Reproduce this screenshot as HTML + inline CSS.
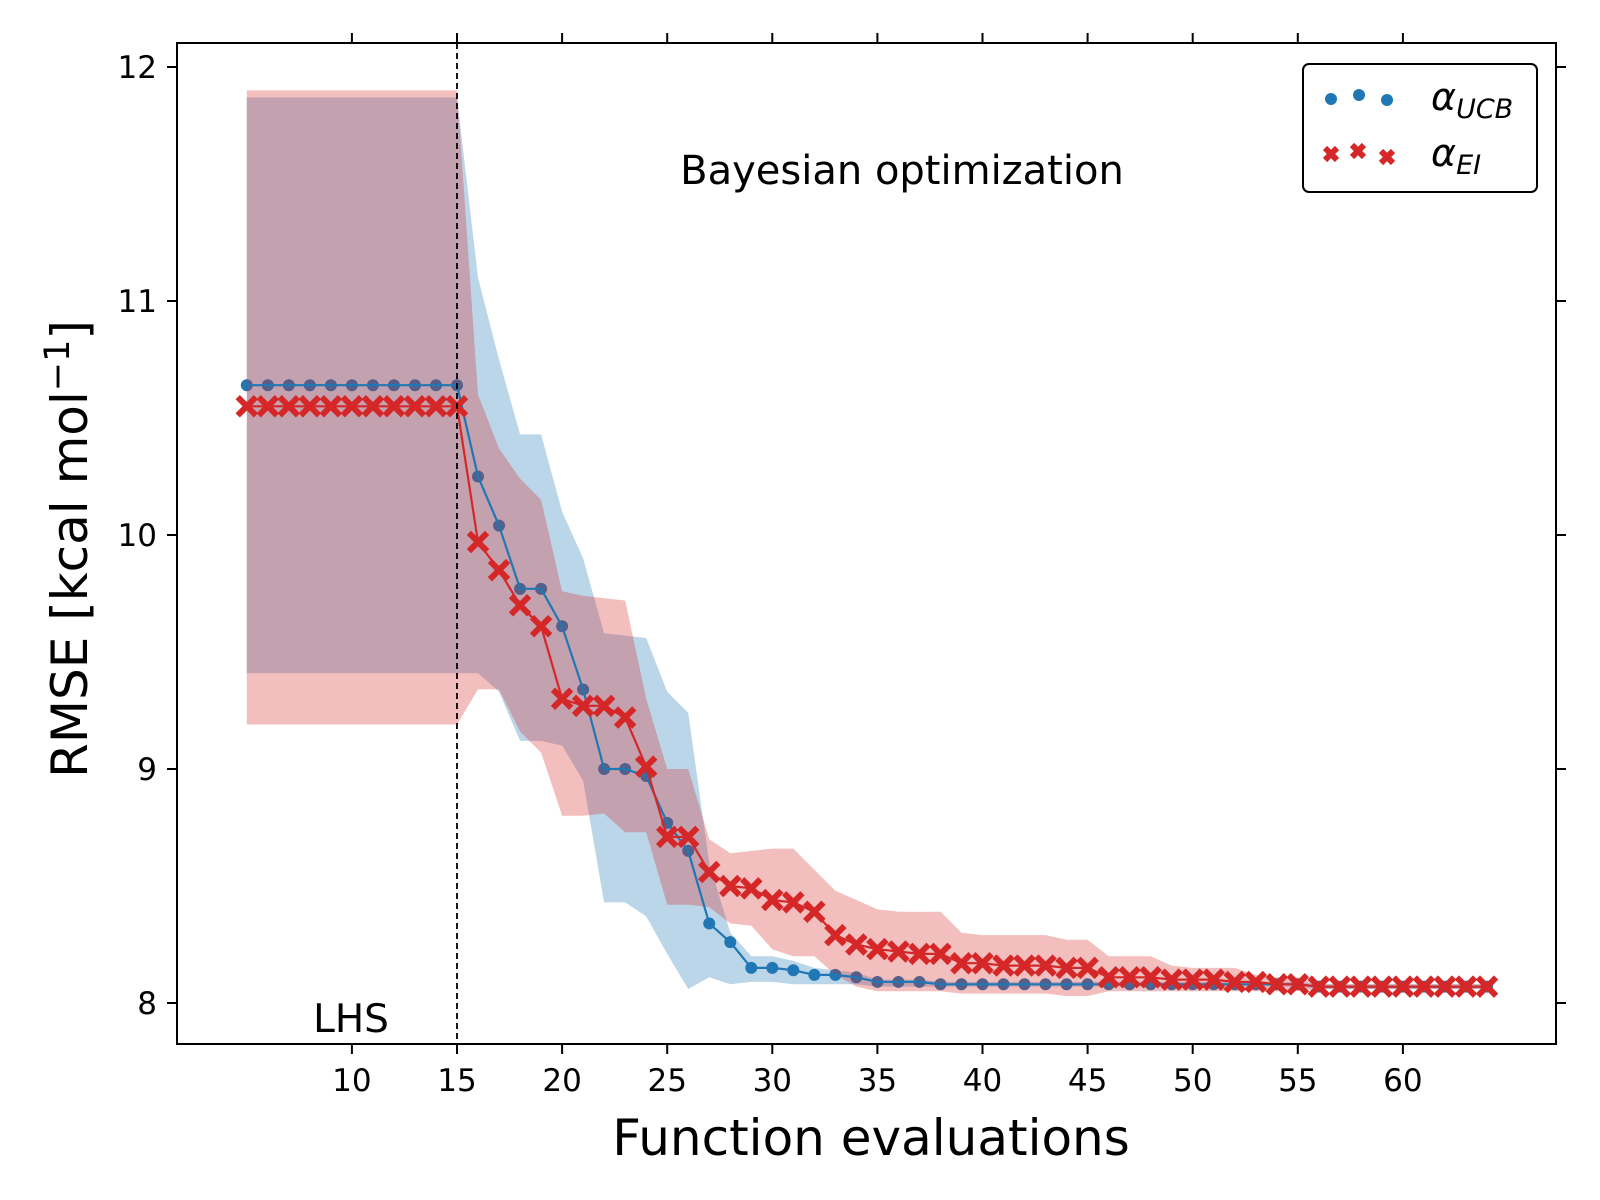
<!DOCTYPE html>
<html><head><meta charset="utf-8"><style>
html,body{margin:0;padding:0;background:#fff;}
svg{display:block;font-family:"DejaVu Sans","Liberation Sans",sans-serif;}
</style></head><body>
<svg id="chart" width="1600" height="1200" viewBox="0 0 1600 1200">
<g id="fills"></g><g id="series"></g><g id="axes"></g>
</svg>
<script>
const xs = [5,6,7,8,9,10,11,12,13,14,15,16,17,18,19,20,21,22,23,24,25,26,27,28,29,30,31,32,33,34,35,36,37,38,39,40,41,42,43,44,45,46,47,48,49,50,51,52,53,54,55,56,57,58,59,60,61,62,63,64];
const ucbMean = [10.64,10.64,10.64,10.64,10.64,10.64,10.64,10.64,10.64,10.64,10.64,10.25,10.04,9.77,9.77,9.61,9.34,9.0,9.0,8.97,8.77,8.65,8.34,8.26,8.15,8.15,8.14,8.12,8.12,8.11,8.09,8.09,8.09,8.08,8.08,8.08,8.08,8.08,8.08,8.08,8.08,8.08,8.08,8.08,8.08,8.08,8.08,8.08,8.08,8.08,8.08,8.07,8.07,8.07,8.07,8.07,8.07,8.07,8.07,8.07];
const ucbUpper = [11.87,11.87,11.87,11.87,11.87,11.87,11.87,11.87,11.87,11.87,11.87,11.1,10.75,10.43,10.43,10.1,9.9,9.58,9.57,9.56,9.33,9.24,8.6,8.3,8.2,8.2,8.18,8.15,8.14,8.13,8.1,8.1,8.1,8.09,8.09,8.09,8.09,8.09,8.09,8.09,8.09,8.09,8.09,8.09,8.09,8.09,8.09,8.09,8.09,8.09,8.09,8.08,8.08,8.08,8.08,8.08,8.08,8.08,8.08,8.08];
const ucbLower = [9.41,9.41,9.41,9.41,9.41,9.41,9.41,9.41,9.41,9.41,9.41,9.41,9.33,9.12,9.12,9.1,8.95,8.43,8.43,8.37,8.21,8.06,8.11,8.08,8.09,8.09,8.08,8.08,8.08,8.08,8.07,8.07,8.07,8.07,8.07,8.07,8.07,8.07,8.07,8.07,8.07,8.07,8.07,8.07,8.07,8.07,8.07,8.07,8.07,8.07,8.07,8.06,8.06,8.06,8.06,8.06,8.06,8.06,8.06,8.06];
const eiMean = [10.55,10.55,10.55,10.55,10.55,10.55,10.55,10.55,10.55,10.55,10.55,9.97,9.85,9.7,9.61,9.3,9.27,9.27,9.22,9.01,8.71,8.71,8.56,8.5,8.49,8.44,8.43,8.39,8.29,8.25,8.23,8.22,8.21,8.21,8.17,8.17,8.16,8.16,8.16,8.15,8.15,8.11,8.11,8.11,8.1,8.1,8.1,8.09,8.09,8.08,8.08,8.07,8.07,8.07,8.07,8.07,8.07,8.07,8.07,8.07];
const eiUpper = [11.9,11.9,11.9,11.9,11.9,11.9,11.9,11.9,11.9,11.9,11.9,10.6,10.37,10.24,10.15,9.76,9.74,9.73,9.72,9.3,9.0,9.0,8.7,8.64,8.65,8.66,8.66,8.57,8.48,8.44,8.4,8.39,8.39,8.39,8.3,8.29,8.29,8.29,8.29,8.27,8.27,8.2,8.2,8.2,8.16,8.15,8.15,8.15,8.12,8.11,8.11,8.08,8.08,8.08,8.08,8.08,8.08,8.08,8.08,8.08];
const eiLower = [9.19,9.19,9.19,9.19,9.19,9.19,9.19,9.19,9.19,9.19,9.19,9.34,9.34,9.16,9.07,8.8,8.8,8.81,8.73,8.73,8.42,8.42,8.41,8.34,8.33,8.23,8.2,8.2,8.12,8.07,8.05,8.05,8.05,8.05,8.04,8.04,8.04,8.04,8.04,8.03,8.03,8.05,8.05,8.05,8.05,8.05,8.05,8.05,8.05,8.05,8.05,8.06,8.06,8.06,8.06,8.06,8.06,8.06,8.06,8.06];
const xTicks = [10,15,20,25,30,35,40,45,50,55,60];
const yTicks = [8,9,10,11,12];

const NS="http://www.w3.org/2000/svg";
const L=177,R=1556,T=43,B=1044;
function X(v){return 457+(v-15)*21.02;}
function Y(v){return 1003-(v-8)*234;}
function mk(tag,attrs,parent,text){const e=document.createElementNS(NS,tag);for(const k in attrs)e.setAttribute(k,attrs[k]);if(text!==undefined)e.textContent=text;parent.appendChild(e);return e;}
const series=document.getElementById('series'),axes=document.getElementById('axes');

function band(up,lo,color,name){
  let d='M'+xs.map((x,i)=>X(x).toFixed(1)+','+Y(up[i]).toFixed(1)).join('L');
  for(let i=xs.length-1;i>=0;i--)d+='L'+X(xs[i]).toFixed(1)+','+Y(lo[i]).toFixed(1);
  const p=mk('path',{d:d+'Z',fill:color,'fill-opacity':0.3,stroke:'none'},series);
  
  
}
function line(m,color,name){
  const p=mk('polyline',{points:xs.map((x,i)=>X(x).toFixed(1)+','+Y(m[i]).toFixed(1)).join(' '),fill:'none',stroke:color,'stroke-width':2.2},series);
  
  
}
function dot(cx,cy,parent){return mk('circle',{cx:cx,cy:cy,r:6,fill:'#1f77b4'},parent);}
function cross(cx,cy,parent){const s=7,w=6;return mk('path',{d:`M${cx-s},${cy-s}L${cx+s},${cy+s}M${cx-s},${cy+s}L${cx+s},${cy-s}`,stroke:'#d62728','stroke-width':w,'stroke-linecap':'square'},parent);}

band(ucbUpper,ucbLower,'#1f77b4','ucb-band');
xs.forEach((x,i)=>{const c=dot(X(x),Y(ucbMean[i]),series);
  
  });
band(eiUpper,eiLower,'#d62728','ei-band');
line(ucbMean,'#1f77b4','ucb-line');
line(eiMean,'#d62728','ei-line');
xs.forEach((x,i)=>{const c=cross(X(x),Y(eiMean[i]),series);
  
  });

const dl=mk('line',{x1:X(15),x2:X(15),y1:T,y2:B,stroke:'#000','stroke-width':1.8,'stroke-dasharray':'6,4'},axes);



const frame=mk('rect',{x:L,y:T,width:R-L,height:B-T,fill:'none',stroke:'#000','stroke-width':2},axes);



xTicks.forEach(t=>{
  const x=X(t);
  mk('line',{x1:x,x2:x,y1:B,y2:B+10,stroke:'#000','stroke-width':2},axes);
  mk('line',{x1:x,x2:x,y1:T,y2:T-10,stroke:'#000','stroke-width':2},axes);
  const tx=mk('text',{x:x,y:B+47,'text-anchor':'middle','font-size':31},axes,String(t));
  
  
});
yTicks.forEach(t=>{
  const y=Y(t);
  mk('line',{x1:L,x2:L-10,y1:y,y2:y,stroke:'#000','stroke-width':2},axes);
  mk('line',{x1:R,x2:R+10,y1:y,y2:y,stroke:'#000','stroke-width':2},axes);
  const tx=mk('text',{x:L-20,y:y+11,'text-anchor':'end','font-size':31},axes,String(t));
  
  
});

function t2(attrs,txt,name){const e=mk('text',attrs,axes,txt);
  
  return e;}
t2({x:871,y:1155,'text-anchor':'middle','font-size':50},'Function evaluations','x-axis-title');
const yl=t2({x:0,y:0,'text-anchor':'middle','font-size':50,transform:'translate(87,549) rotate(-90)'},'','y-axis-title');
yl.innerHTML='RMSE [kcal mol<tspan dy="-18" font-size="35">−1</tspan><tspan dy="18">]</tspan>';
t2({x:902,y:184,'text-anchor':'middle','font-size':40},'Bayesian optimization','annotation-title');
t2({x:351,y:1032,'text-anchor':'middle','font-size':39},'LHS','lhs-label');

const lg=mk('g',{},axes);


lg.innerHTML='<rect x="1303" y="64" width="234" height="128" rx="6" fill="#fff" stroke="#000" stroke-width="2"/>'+
'<circle cx="1331" cy="99" r="6" fill="#1f77b4"/><circle cx="1359" cy="95" r="6" fill="#1f77b4"/><circle cx="1387" cy="100" r="6" fill="#1f77b4"/>'+
'<g stroke="#d62728" stroke-width="6"><path d="M1325,148L1337,160M1325,160L1337,148"/><path d="M1352,145L1364,157M1352,157L1364,145"/><path d="M1381,151L1393,163M1381,163L1393,151"/></g>'+
'<text x="1431" y="110" font-size="38" font-style="italic">α<tspan dy="8" font-size="27">UCB</tspan></text>'+
'<text x="1431" y="166" font-size="38" font-style="italic">α<tspan dy="8" font-size="27">EI</tspan></text>';
</script>
</body></html>
